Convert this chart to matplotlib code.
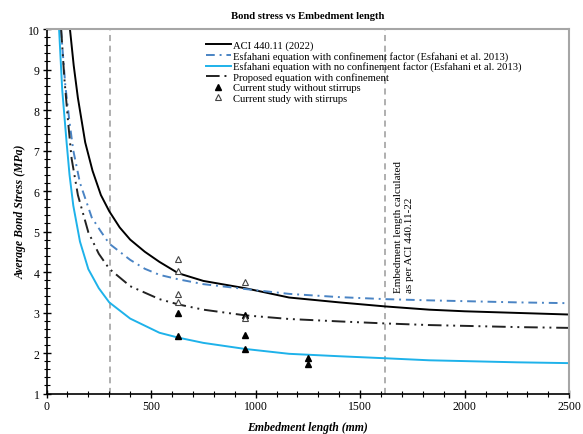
import numpy as np
import matplotlib
matplotlib.use('Agg')
import matplotlib.pyplot as plt
from matplotlib.ticker import MultipleLocator

plt.rcParams['font.family'] = ['Liberation Serif', 'DejaVu Serif']

# curves (embedment length in mm, bond stress in MPa)
aci_x = [112, 130, 150, 185, 220, 260, 300, 350, 400, 470, 540, 630, 750, 950, 1160, 1400, 1620, 1830, 2000, 2250, 2500]
aci_y = [10.0, 9.1, 8.3, 7.2, 6.5, 5.9, 5.5, 5.1, 4.8, 4.5, 4.25, 3.97, 3.78, 3.6, 3.37, 3.25, 3.15, 3.07, 3.03, 2.99, 2.95]

esf_conf_x = [69, 90, 110, 128, 160, 216, 260, 300, 400, 470, 540, 630, 750, 950, 1160, 1400, 1620, 1830, 2000, 2250, 2500]
esf_conf_y = [10.0, 8.6, 7.7, 7.0, 6.2, 5.35, 5.0, 4.7, 4.3, 4.08, 3.93, 3.82, 3.7, 3.58, 3.46, 3.38, 3.33, 3.3, 3.28, 3.25, 3.23]

esf_noconf_x = [60, 75, 96, 110, 128, 160, 200, 250, 300, 400, 540, 630, 750, 950, 1160, 1400, 1620, 1830, 2000, 2250, 2500]
esf_noconf_y = [10.0, 8.5, 7.2, 6.4, 5.64, 4.75, 4.07, 3.6, 3.25, 2.85, 2.5, 2.38, 2.25, 2.1, 1.98, 1.92, 1.87, 1.82, 1.8, 1.77, 1.75]

prop_x = [70, 85, 104, 120, 150, 200, 250, 300, 400, 540, 630, 750, 950, 1160, 1400, 1620, 1830, 2000, 2250, 2500]
prop_y = [10.0, 8.8, 7.66, 6.8, 5.9, 4.98, 4.45, 4.08, 3.65, 3.33, 3.2, 3.07, 2.93, 2.84, 2.78, 2.73, 2.69, 2.67, 2.64, 2.62]

# test results
nostir_x = [630, 630, 950, 950, 950, 1250, 1250]
nostir_y = [3.00, 2.41, 2.94, 2.45, 2.10, 1.88, 1.74]
stir_x = [630, 630, 630, 630, 950, 950]
stir_y = [4.32, 4.03, 3.46, 3.27, 3.75, 2.86]

vlines_x = [305, 1620]

fig = plt.figure(figsize=(5.83, 4.35), dpi=100)
ax = fig.add_axes([0.0798, 0.0931, 0.8967, 0.8379])

for xv in vlines_x:
    ax.axvline(xv, color='#9a9a9a', lw=1.1, dashes=(4, 3), zorder=1)

ax.plot(aci_x, aci_y, color='black', lw=1.4, label='ACI 440.11 (2022)')
ax.plot(esf_conf_x, esf_conf_y, color='#4a84c4', lw=1.4, dashes=(4.5, 2.5, 1, 2.5),
        label='Esfahani equation with confinement factor (Esfahani et al. 2013)')
ax.plot(esf_noconf_x, esf_noconf_y, color='#1eb2ea', lw=1.4,
        label='Esfahani equation with no confinement factor (Esfahani et al. 2013)')
ax.plot(prop_x, prop_y, color='#222222', lw=1.4, dashes=(7, 2.5, 1, 2.5, 1, 2.5),
        label='Proposed equation with confinement')
ax.plot(nostir_x, nostir_y, ls='none', marker='^', ms=4.5, color='black',
        label='Current study without stirrups')
ax.plot(stir_x, stir_y, ls='none', marker='^', ms=4.5, mfc='white', mec='#444444', mew=0.8,
        label='Current study with stirrups')

ax.text(1660, 3.5, 'Embedment length calculated\nas per ACI 440.11-22', rotation=90,
        fontsize=8, ha='left', va='bottom', linespacing=1.3)

ax.set_xlim(0, 2500)
ax.set_ylim(1, 10)
ax.xaxis.set_major_locator(MultipleLocator(500))
ax.xaxis.set_minor_locator(MultipleLocator(100))
ax.yaxis.set_major_locator(MultipleLocator(1))
ax.yaxis.set_minor_locator(MultipleLocator(0.2))
ax.tick_params(which='major', direction='inout', length=6, width=1, labelsize=8.5, pad=2)
ax.tick_params(which='minor', direction='inout', length=4, width=0.8)
ax.tick_params(top=False, right=False, which='both')

for s in ['left', 'bottom']:
    ax.spines[s].set_color('black')
    ax.spines[s].set_linewidth(1.2)
for s in ['top', 'right']:
    ax.spines[s].set_color('#a6a6a6')
    ax.spines[s].set_linewidth(1.5)

ax.set_xlabel('Embedment length (mm)', fontsize=8.5, fontweight='bold', fontstyle='italic', labelpad=6)
ax.set_ylabel('Average Bond Stress (MPa)', fontsize=8.5, fontweight='bold', fontstyle='italic', labelpad=1)
ax.set_title('Bond stress vs Embedment length', fontsize=7.7, fontweight='bold', pad=8)

ax.legend(loc='upper left', bbox_to_anchor=(0.29, 0.99), frameon=False, fontsize=7.7,
          labelspacing=0.08, handlelength=2.4, handletextpad=0.15, borderpad=0.2)

plt.savefig('out.png', dpi=100)
